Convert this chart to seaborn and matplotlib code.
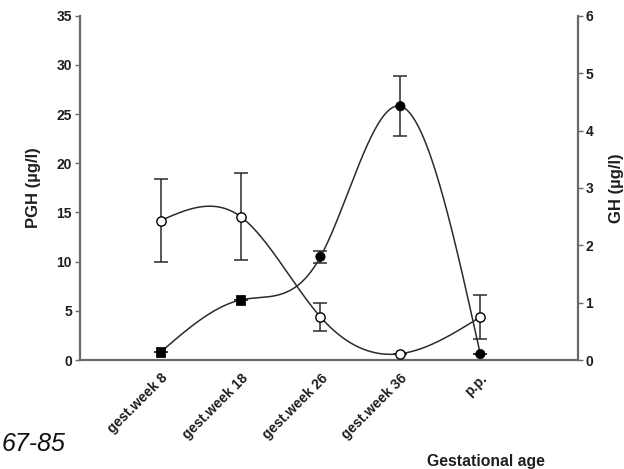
import numpy as np
import pandas as pd
import seaborn as sns
import matplotlib.pyplot as plt

sns.set_style('white')
plt.rcParams['font.family'] = ['Liberation Sans', 'DejaVu Sans']

# data
stages = ['gest.week 8', 'gest.week 18', 'gest.week 26', 'gest.week 36', 'p.p.']
pgh = [0.8, 6.1, 10.5, 25.8, 0.6]          # µg/l, left axis (filled)
pgh_err = [0.0, 0.0, 0.6, 3.05, 0.0]
pgh_marker = ['s', 's', 'o', 'o', 'o']
gh = [2.43, 2.5, 0.75, 0.11, 0.75]          # µg/l, right axis (open)
gh_err = [0.73, 0.76, 0.25, 0.0, 0.38]


def spline(y, n=60):
    # natural cubic spline through equally spaced points (x = 0..len-1)
    y = np.asarray(y, float)
    k = len(y)
    A = np.zeros((k, k))
    b = np.zeros(k)
    A[0, 0] = A[-1, -1] = 1
    for i in range(1, k - 1):
        A[i, i - 1:i + 2] = [1, 4, 1]
        b[i] = 6 * (y[i + 1] - 2 * y[i] + y[i - 1])
    M = np.linalg.solve(A, b)
    xs, ys = [], []
    for i in range(k - 1):
        t = np.linspace(0, 1, n)
        s = ((1 - t) * y[i] + t * y[i + 1]
             + M[i] / 6 * ((1 - t) ** 3 - (1 - t))
             + M[i + 1] / 6 * (t ** 3 - t))
        xs.extend(i + t)
        ys.extend(s)
    return pd.DataFrame({'x': xs, 'y': ys})


x = np.arange(len(stages))
line_c = '#2b2b2b'
spine_c = '#6a6a6a'
txt_c = '#1e1e1e'

fig = plt.figure(figsize=(6.24, 4.69), dpi=100)
ax = fig.add_axes([0.128, 0.2324, 0.798, 0.734])
ax2 = ax.twinx()

# PGH, filled markers, left axis
sns.lineplot(data=spline(pgh), x='x', y='y', ax=ax, color=line_c, lw=1.1)
ax.errorbar(x, pgh, yerr=pgh_err, fmt='none', ecolor=line_c, elinewidth=1.1,
            capsize=5, capthick=1.1)
df_p = pd.DataFrame({'x': x, 'y': pgh, 'm': pgh_marker})
sns.scatterplot(data=df_p, x='x', y='y', style='m', markers={'s': 's', 'o': 'o'},
                color='black', edgecolor='black', s=45, ax=ax, legend=False,
                zorder=5)

# GH, open markers, right axis
sns.lineplot(data=spline(gh), x='x', y='y', ax=ax2, color=line_c, lw=1.1)
ax2.errorbar(x, gh, yerr=gh_err, fmt='none', ecolor=line_c, elinewidth=1.1,
             capsize=5, capthick=1.1)
sns.scatterplot(x=x, y=gh, marker='o', color='white', edgecolor='black',
                linewidth=1, s=45, ax=ax2, zorder=5)

ax.set_xlim(-1.01, 5.22)
ax.set_ylim(0, 35)
ax2.set_ylim(0, 6)
ax.set_yticks(range(0, 36, 5))
ax2.set_yticks(range(0, 7))
ax.set_xticks(x)
ax.set_xticklabels(stages, rotation=45, ha='right', rotation_mode='anchor',
                   fontsize=12, fontweight='bold', color=txt_c)

for a in (ax, ax2):
    a.set_xlabel('')
    a.set_ylabel('')
    for side, sp in a.spines.items():
        sp.set_color(spine_c)
        sp.set_linewidth(1.6)
    a.spines['top'].set_visible(False)
    a.tick_params(direction='out', length=3.6, width=1, color=spine_c,
                  labelsize=10, labelcolor=txt_c, pad=2)
    for lab in a.get_yticklabels():
        lab.set_fontweight('bold')
ax.spines['right'].set_visible(False)
ax2.spines['left'].set_visible(False)
ax2.spines['bottom'].set_visible(False)
ax.tick_params(axis='x', length=4, pad=4)
ax.tick_params(axis='y', left=True)
ax2.tick_params(axis='y', right=True)

ax.set_ylabel('PGH (µg/l)', fontsize=12, fontweight='bold', color=txt_c,
              labelpad=11)
ax2.set_ylabel('GH (µg/l)', fontsize=12, fontweight='bold', color=txt_c,
               rotation=90, labelpad=11)

fig.text(486 / 624, 1 - 461 / 469, 'Gestational age', ha='center', va='center',
         fontsize=11.3, fontweight='bold', color=txt_c)
fig.text(2 / 624, 1 - 444 / 469, '67-85', ha='left', va='center',
         fontsize=18, fontstyle='italic', color='#111111')

fig.savefig('out.png', dpi=100)
